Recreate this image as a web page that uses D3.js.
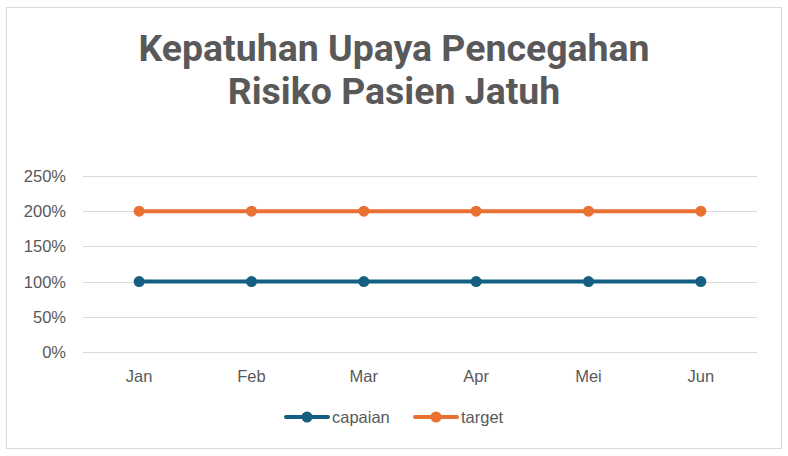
<!DOCTYPE html>
<html>
<head>
<meta charset="utf-8">
<script src="https://cdn.jsdelivr.net/npm/d3@7"></script>
<style>
  body { margin: 0; background: #fff; }
  svg { display: block; }
  .tick-label { font-family: "Liberation Sans", Arial, sans-serif; font-size: 16.5px; fill: #595959; }
</style>
</head>
<body>
<svg id="chart" width="788" height="456"></svg>
<script>
// Kepatuhan Upaya Pencegahan Risiko Pasien Jatuh - line chart

const months = ['Jan', 'Feb', 'Mar', 'Apr', 'Mei', 'Jun'];
const capaian = [1, 1, 1, 1, 1, 1];
const target = [2, 2, 2, 2, 2, 2];
const yTicks = [0, 0.5, 1, 1.5, 2, 2.5];
const titleLines = ['Kepatuhan Upaya Pencegahan', 'Risiko Pasien Jatuh'];

const series = [
  { name: 'capaian', values: capaian, color: '#156082' },
  { name: 'target', values: target, color: '#E97132' }
];

const svg = d3.select('#chart');

// outer chart border
svg.append('rect')
  .attr('x', 6.5).attr('y', 7.5)
  .attr('width', 775).attr('height', 441)
  .attr('fill', '#fff')
  .attr('stroke', '#d9d9d9');

const title = svg.append('text')
  .attr('transform', 'translate(394,0) scale(1.04,1)')
  .attr('text-anchor', 'middle')
  .attr('font-family', 'Roboto, sans-serif')
  .attr('font-weight', 'bold')
  .attr('font-size', 36)
  .attr('fill', '#595959');

titleLines.forEach((line, i) => {
  title.append('tspan')
    .attr('x', 0)
    .attr('y', 61 + i * 43)
    .text(line);
});

const x = d3.scaleBand().domain(months).range([83, 757]);
const y = d3.scaleLinear().domain([0, 2.5]).range([352, 176]);

const grid = svg.append('g');
yTicks.forEach(t => {
  grid.append('line')
    .attr('x1', 83).attr('x2', 757)
    .attr('y1', Math.round(y(t)) + 0.5).attr('y2', Math.round(y(t)) + 0.5)
    .attr('stroke', '#d9d9d9')
    .attr('stroke-width', 1);

  svg.append('text')
    .attr('class', 'tick-label')
    .attr('x', 66)
    .attr('y', y(t))
    .attr('dy', '0.36em')
    .attr('text-anchor', 'end')
    .text(d3.format('.0%')(t));
});

months.forEach(m => {
  svg.append('text')
    .attr('class', 'tick-label')
    .attr('x', x(m) + x.bandwidth() / 2)
    .attr('y', 382)
    .attr('text-anchor', 'middle')
    .text(m);
});

const line = d3.line()
  .x((d, i) => x(months[i]) + x.bandwidth() / 2)
  .y(d => y(d));

series.forEach(s => {
  svg.append('path')
    .attr('d', line(s.values))
    .attr('fill', 'none')
    .attr('stroke', s.color)
    .attr('stroke-width', 4)
    .attr('stroke-linecap', 'round');

  svg.selectAll(null)
    .data(s.values)
    .enter().append('circle')
    .attr('cx', (d, i) => x(months[i]) + x.bandwidth() / 2)
    .attr('cy', d => y(d))
    .attr('r', 5.5)
    .attr('fill', s.color);
});

// legend
const legend = svg.append('g').attr('transform', 'translate(0,417)');
const legendX = [286, 415];
series.forEach((s, i) => {
  const lx = legendX[i];
  legend.append('line')
    .attr('x1', lx).attr('x2', lx + 42)
    .attr('y1', 0).attr('y2', 0)
    .attr('stroke', s.color)
    .attr('stroke-width', 4)
    .attr('stroke-linecap', 'round');
  legend.append('circle')
    .attr('cx', lx + 21).attr('cy', 0)
    .attr('r', 5.5)
    .attr('fill', s.color);
  legend.append('text')
    .attr('class', 'tick-label')
    .attr('x', lx + 46)
    .attr('y', 0)
    .attr('dy', '0.36em')
    .text(s.name);
});
</script>
</body>
</html>
